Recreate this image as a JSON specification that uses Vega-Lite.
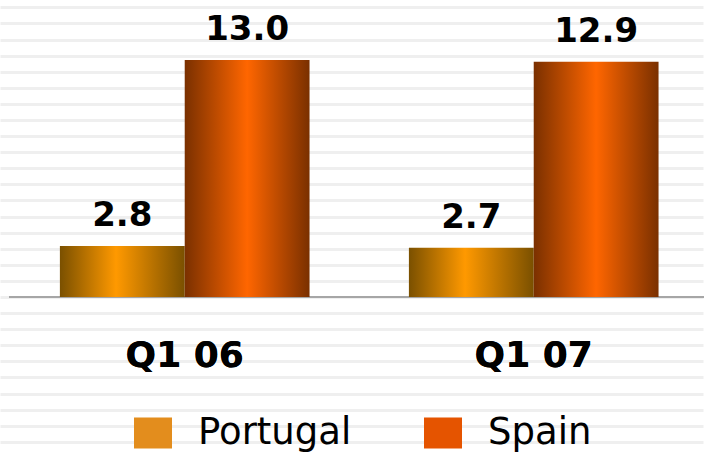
{
  "$schema": "https://vega.github.io/schema/vega-lite/v6.json",
  "width": 704,
  "height": 453,
  "autosize": {"type": "fit", "contains": "padding"},
  "padding": 0,
  "background": "#ffffff",
  "config": {"view": {"stroke": null}},
  "data": {
    "values": [
      {"quarter": "Q1 06", "country": "Portugal", "value": 2.8},
      {"quarter": "Q1 06", "country": "Spain", "value": 13.0},
      {"quarter": "Q1 07", "country": "Portugal", "value": 2.7},
      {"quarter": "Q1 07", "country": "Spain", "value": 12.9}
    ]
  },
  "encoding": {
    "x": {
      "field": "quarter",
      "type": "nominal",
      "scale": {"paddingInner": 0.2847, "paddingOuter": 0.1495, "align": 0.574},
      "axis": null
    },
    "xOffset": {
      "field": "country",
      "type": "nominal",
      "scale": {"domain": ["Portugal", "Spain"], "paddingInner": 0, "paddingOuter": 0}
    },
    "y": {
      "field": "value",
      "type": "quantitative",
      "scale": {"domain": [-8.557, 16.292], "nice": false, "zero": false},
      "axis": {
        "title": null,
        "labels": false,
        "ticks": false,
        "domain": false,
        "grid": true,
        "gridColor": "#efefef",
        "gridWidth": 3,
        "values": [-7.943, -7.061, -6.178, -5.296, -4.413, -3.530, -2.648, -1.765, -0.883, 0, 0.883, 1.765, 2.648, 3.530, 4.413, 5.296, 6.178, 7.061, 7.943, 8.826, 9.709, 10.591, 11.474, 12.356, 13.239, 14.122, 15.004, 15.887]
      }
    }
  },
  "layer": [
    {
      "mark": {"type": "rule", "color": "#a6a6a6", "strokeWidth": 2},
      "encoding": {"x": {"value": 9}, "x2": {"value": 704}, "y": {"datum": 0}, "xOffset": null}
    },
    {
      "mark": {"type": "bar", "opacity": 0},
      "encoding": {
        "color": {
          "field": "country",
          "type": "nominal",
          "scale": {"domain": ["Portugal", "Spain"], "range": ["#e38d1d", "#e55400"]},
          "legend": {
            "title": null,
            "orient": "none",
            "direction": "horizontal",
            "legendX": 134,
            "legendY": 414,
            "symbolType": "M-1,-0.816H1V0.816H-1Z",
            "symbolSize": 1444,
            "symbolOpacity": 1,
            "symbolStrokeWidth": 0,
            "labelFont": "DejaVu Sans",
            "labelFontSize": 37,
            "labelColor": "#000000",
            "labelOffset": 26,
            "columnPadding": 72,
            "padding": 0
          }
        }
      }
    },
    {
      "mark": {"type": "bar"},
      "encoding": {
        "color": {
          "condition": {
            "test": "datum.country === 'Portugal'",
            "value": {"gradient": "linear", "x1": 0, "y1": 0, "x2": 1, "y2": 0, "stops": [{"offset": 0, "color": "#7a5000"}, {"offset": 0.45, "color": "#ff9900"}, {"offset": 1, "color": "#7a5000"}]}
          },
          "value": {"gradient": "linear", "x1": 0, "y1": 0, "x2": 1, "y2": 0, "stops": [{"offset": 0, "color": "#7a3000"}, {"offset": 0.5, "color": "#ff6600"}, {"offset": 1, "color": "#7a3000"}]}
        }
      }
    },
    {
      "mark": {"type": "text", "font": "DejaVu Sans", "fontWeight": "bold", "fontSize": 34, "baseline": "alphabetic", "dy": -20, "color": "#000000"},
      "encoding": {"text": {"field": "value", "type": "quantitative", "format": ".1f"}}
    },
    {
      "mark": {"type": "text", "font": "DejaVu Sans", "fontWeight": "bold", "fontSize": 36, "baseline": "alphabetic", "color": "#000000"},
      "encoding": {
        "text": {"field": "quarter"},
        "y": {"datum": -3.83},
        "xOffset": null
      }
    }
  ]
}
